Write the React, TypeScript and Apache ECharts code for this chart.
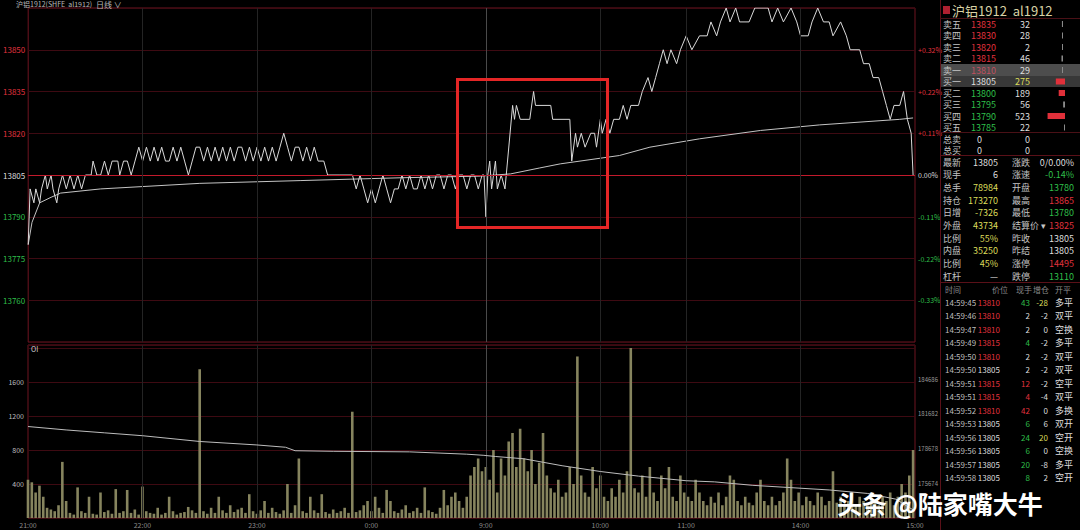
import React, { useEffect, useRef } from 'react';
import * as echarts from 'echarts';

// ---------- axis ticks ----------
const timeTickMinutes = [0, 60, 120, 180, 240, 300, 345, 405, 465];
const timeTickLabels = ['21:00', '22:00', '23:00', '0:00', '9:00', '10:00', '11:00', '14:00', '15:00'];
const priceTicks = [13760, 13775, 13790, 13805, 13820, 13835, 13850];
const pctLabels = ['-0.33%', '-0.22%', '-0.11%', '0.00%', '+0.11%', '+0.22%', '+0.32%'];
const prevSettle = 13805;
const volTicks = [400, 800, 1200, 1600];
const oiTicks = [175674, 178678, 181682, 184686];

// ---------- price (minute index, price) ----------
const priceLine: [number, number][] = [
  [0, 13780], [1, 13800], [3, 13795], [4, 13800], [6, 13795], [7, 13800], [9, 13805], [10, 13800], [12, 13805], [13, 13800],
  [15, 13795], [16, 13800], [18, 13805], [20, 13800], [22, 13805], [24, 13800], [26, 13805], [28, 13800], [30, 13805], [33, 13805],
  [34, 13810], [36, 13805], [38, 13805], [40, 13810], [42, 13805], [44, 13810], [47, 13810], [48, 13805], [50, 13810], [52, 13810],
  [54, 13805], [56, 13810], [58, 13815], [60, 13810], [62, 13815], [64, 13810], [66, 13815], [68, 13810], [70, 13815], [72, 13810],
  [74, 13810], [76, 13815], [78, 13810], [80, 13815], [82, 13810], [84, 13805], [86, 13810], [88, 13815], [90, 13815], [92, 13810],
  [94, 13815], [96, 13810], [98, 13815], [100, 13810], [102, 13815], [104, 13810], [106, 13815], [108, 13810], [110, 13815], [112, 13815],
  [114, 13810], [116, 13815], [118, 13810], [120, 13815], [122, 13810], [124, 13815], [126, 13810], [128, 13815], [130, 13810], [132, 13815],
  [134, 13820], [136, 13815], [138, 13810], [140, 13815], [142, 13815], [144, 13810], [146, 13815], [148, 13810], [150, 13815], [152, 13810],
  [155, 13810], [157, 13805], [163, 13805], [170, 13805], [172, 13800], [174, 13805], [176, 13800], [178, 13795], [180, 13800], [182, 13795],
  [184, 13800], [186, 13805], [188, 13800], [190, 13795], [192, 13800], [194, 13800], [196, 13805], [198, 13800], [200, 13805], [202, 13800],
  [204, 13800], [206, 13805], [208, 13800], [210, 13805], [212, 13800], [214, 13805], [216, 13805], [218, 13800], [220, 13805], [222, 13805],
  [224, 13800], [226, 13805], [228, 13805], [230, 13800], [232, 13805], [234, 13805], [236, 13800], [238, 13805], [239, 13805],
  [240, 13790], [241, 13805], [242, 13810], [243, 13800], [245, 13810], [246, 13800], [248, 13805], [250, 13800], [254, 13830], [255, 13825],
  [256, 13830], [258, 13825], [263, 13825], [265, 13835], [266, 13830], [274, 13830], [275, 13825], [284, 13825], [285, 13810], [287, 13820],
  [288, 13815], [290, 13820], [292, 13815], [295, 13820], [297, 13820], [298, 13815], [300, 13825], [301, 13820], [303, 13825], [305, 13820],
  [307, 13825], [310, 13825], [312, 13830], [314, 13825], [316, 13830], [320, 13830], [322, 13835], [325, 13840], [327, 13835], [329, 13840],
  [331, 13845], [333, 13850], [335, 13845], [337, 13850], [340, 13845], [342, 13850], [345, 13855], [348, 13850], [352, 13855], [356, 13855],
  [358, 13860], [361, 13855], [363, 13860], [366, 13865], [368, 13860], [371, 13865], [373, 13860], [378, 13860], [381, 13865], [388, 13865],
  [390, 13860], [393, 13865], [396, 13860], [400, 13865], [403, 13860], [405, 13855], [409, 13855], [411, 13860], [414, 13865], [417, 13860],
  [420, 13860], [422, 13855], [426, 13860], [429, 13855], [431, 13850], [436, 13850], [438, 13845], [441, 13845], [443, 13840], [446, 13840],
  [448, 13835], [450, 13830], [452, 13825], [454, 13830], [457, 13830], [459, 13835], [461, 13825], [463, 13820], [464, 13805],
];

const avgLine: [number, number][] = [
  [0, 13780], [2, 13788], [6, 13795], [12, 13797], [17, 13798.5], [38, 13800], [90, 13802], [143, 13803], [195, 13804], [237, 13804.6],
  [253, 13805.4], [268, 13807.5], [279, 13809], [310, 13812], [326, 13815], [352, 13818], [384, 13821], [415, 13823], [457, 13825], [464, 13825.5],
];

// ---------- volume (sampled every 2 minutes) ----------
const volNight = [
  450, 420, 300, 380, 250, 120, 100, 80, 150, 660, 200, 60, 40, 360, 80, 60, 250, 50, 40, 300,
  70, 90, 50, 340, 60, 80, 330, 60, 100, 40, 370, 80, 60, 50, 120, 40, 60, 250, 80, 40,
  60, 70, 130, 90, 60, 1750, 80, 50, 120, 60, 250, 90, 60, 150, 70, 100, 120, 60, 280, 80,
  50, 90, 200, 60, 120, 70, 50, 90, 400, 60, 150, 700, 80, 60, 250, 90, 60, 280, 70, 50,
  100, 60, 80, 120, 60, 1250, 70, 90, 150, 200, 80, 250, 120, 60, 330, 200, 80, 60, 100, 150,
  60, 80, 120, 60, 360, 90, 70, 50, 120, 330, 150, 250, 300, 200, 120, 250, 500, 600, 700, 550,
];
const volDay = [
  600, 450, 800, 300, 700, 500, 900, 1000, 600, 1050, 700, 550, 800, 400, 650, 1000, 500, 350, 300, 450,
  250, 300, 600, 400, 1900, 500, 300, 250, 600, 350, 500, 250, 200, 350, 250, 450, 300, 550, 2000, 350,
  300, 500, 250, 600, 300, 200, 500, 350, 600, 250, 200, 500, 300, 250, 200, 450, 300, 200, 150, 250,
  180, 300, 150, 250, 500, 450, 200, 150, 250, 180, 150, 300, 450, 200, 150, 250, 150, 200, 300, 700,
  450, 200, 300, 150, 250, 200, 150, 300, 250, 150, 200, 550, 180, 250, 150, 200, 300, 150, 250, 200,
  150, 300, 200, 150, 250, 200, 300, 150, 250, 400, 300, 500, 800,
];
const oiLine: [number, number][] = [
  [0, 180596], [20, 180300], [40, 180050], [60, 179800], [90, 179300], [120, 179000], [135, 178800], [140, 178500], [160, 178450],
  [200, 178400], [230, 178200], [239, 178100], [245, 178000], [260, 177800], [280, 177200], [300, 176700], [320, 176300], [345, 175900],
  [360, 175800], [380, 175500], [400, 175300], [420, 175100], [440, 174800], [455, 174300], [465, 173270],
];

// ---------- right panel data ----------
const askLabels = ['卖五', '卖四', '卖三', '卖二', '卖一'];
const askPrices = [13835, 13830, 13820, 13815, 13810];
const askVols = [32, 28, 2, 46, 29];
const bidLabels = ['买一', '买二', '买三', '买四', '买五'];
const bidPrices = [13805, 13800, 13795, 13790, 13785];
const bidVols = [275, 189, 56, 523, 22];
const totalLabels = ['总卖', '总买'];
const totalVals = [0, 0];

const statLabelsL = ['最新', '现手', '总手', '持仓', '日增', '外盘', '比例', '内盘', '比例', '杠杆'];
const statValuesL = ['13805', '6', '78984', '173270', '-7326', '43734', '55%', '35250', '45%', '—'];
const statLabelsR = ['涨跌', '涨速', '开盘', '最高', '最低', '结算价 ▾', '昨收', '昨结', '涨停', '跌停'];
const statValuesR = ['0/0.00%', '-0.14%', '13780', '13865', '13780', '13825', '13805', '13805', '14495', '13110'];
const statToneL = ['w', 'w', 'y', 'y', 'y', 'y', 'y', 'y', 'y', 'w'];
const statToneR = ['w', 'g', 'g', 'r', 'g', 'r', 'w', 'w', 'r', 'g'];

const tradeHeader = ['时间', '价位', '现手', '增仓', '开平'];
const tradeTimes = ['14:59:45', '14:59:46', '14:59:47', '14:59:49', '14:59:50', '14:59:50', '14:59:51', '14:59:51', '14:59:52', '14:59:53', '14:59:56', '14:59:56', '14:59:57', '14:59:58'];
const tradePrices = [13810, 13810, 13810, 13815, 13810, 13805, 13815, 13815, 13810, 13805, 13805, 13805, 13805, 13805];
const tradeVols = [43, 2, 2, 4, 2, 2, 12, 4, 42, 6, 24, 6, 20, 8];
const tradeSides = ['S', 'N', 'N', 'S', 'N', 'N', 'B', 'B', 'B', 'S', 'S', 'S', 'S', 'S'];
const tradeOiChg = [-28, -2, 0, -2, -2, -2, -2, -4, 0, 6, 20, 0, -8, 2];
const tradeTypes = ['多平', '双平', '空换', '多平', '双平', '双平', '空平', '双平', '多换', '双开', '空开', '空换', '多平', '空开'];

// ---------- styles ----------
const RED = '#e0323e';
const GREEN = '#2fbf4a';
const WHITE = '#dedede';
const YELLOW = '#dcdc5a';
const LABEL = '#c4c4c4';
const FONT = '"Noto Sans CJK SC", "Noto Sans", sans-serif';
const toneColor = (t: string) => (t === 'r' ? RED : t === 'g' ? GREEN : t === 'y' ? YELLOW : WHITE);
const priceColor = (p: number) => (p > prevSettle ? RED : p < prevSettle ? GREEN : WHITE);

function txt(text: string, x: number, y: number, fill: string, size = 9, align = 'left', weight = 'normal') {
  return {
    type: 'text', x, y, silent: true, z: 100,
    style: {
      text, fill, font: `${weight} ${size}px ${FONT}`,
      textAlign: align, textVerticalAlign: 'middle', align, verticalAlign: 'middle',
    },
  };
}
function hline(x1: number, x2: number, y: number, color: string, w = 1) {
  return { type: 'line', silent: true, z: 90, shape: { x1, y1: y, x2, y2: y }, style: { stroke: color, lineWidth: w } };
}
function vline(x: number, y1: number, y2: number, color: string, w = 1) {
  return { type: 'line', silent: true, z: 90, shape: { x1: x, y1, x2: x, y2 }, style: { stroke: color, lineWidth: w } };
}

function buildPanel() {
  const g: any[] = [];
  const P = 940;
  g.push(vline(P + 0.5, 0, 530, '#5a1018'));
  g.push({ type: 'rect', silent: true, z: 95, shape: { x: 943, y: 6, width: 7, height: 8 }, style: { fill: '#b02030' } });
  g.push(txt('沪铝1912  al1912', 952, 10, '#d9d2a6', 13));
  g.push(hline(P, 1080, 18.5, '#4a1016'));
  g.push({ type: 'rect', silent: true, z: 80, shape: { x: P + 1, y: 64, width: 140, height: 12 }, style: { fill: '#4d4d4d' } });
  g.push({ type: 'rect', silent: true, z: 80, shape: { x: P + 1, y: 76, width: 140, height: 11 }, style: { fill: '#383838' } });
  const rowH = 11.5;
  askLabels.forEach((l, i) => {
    const y = 24 + i * rowH;
    g.push(txt(l, 943, y, LABEL));
    g.push(txt(String(askPrices[i]), 996, y, i === 4 ? '#c05060' : RED, 9, 'right'));
    g.push(txt(String(askVols[i]), 1030, y, WHITE, 9, 'right'));
    const w = Math.max(1, askVols[i] / 30);
    g.push({ type: 'rect', silent: true, z: 95, shape: { x: 1063 - w, y: y - 3, width: w, height: 6 }, style: { fill: '#8a8a8a' } });
  });
  bidLabels.forEach((l, i) => {
    const y = 24 + (i + 5) * rowH;
    g.push(txt(l, 943, y, LABEL));
    g.push(txt(String(bidPrices[i]), 996, y, priceColor(bidPrices[i]), 9, 'right'));
    g.push(txt(String(bidVols[i]), 1030, y, i === 0 ? YELLOW : WHITE, 9, 'right'));
    const w = Math.max(1, bidVols[i] / 30);
    g.push({ type: 'rect', silent: true, z: 95, shape: { x: 1065 - w, y: y - 3, width: w, height: 6 }, style: { fill: bidVols[i] > 100 ? '#e0303a' : '#8a8a8a' } });
  });
  g.push(hline(P, 1080, 132.5, '#4a1016'));
  totalLabels.forEach((l, i) => {
    const y = 139 + i * rowH;
    g.push(txt(l, 943, y, LABEL));
    g.push(txt(String(totalVals[i]), 982, y, WHITE, 9, 'right'));
    g.push(txt(String(totalVals[i]), 1030, y, WHITE, 9, 'right'));
  });
  g.push(hline(P, 1080, 155.5, '#5a1018'));
  statLabelsL.forEach((l, i) => {
    const y = 162 + i * 12.7;
    g.push(txt(l, 943, y, LABEL));
    g.push(txt(statValuesL[i], 998, y, toneColor(statToneL[i]), 9, 'right'));
    g.push(txt(statLabelsR[i], 1012, y, LABEL));
    g.push(txt(statValuesR[i], 1074, y, toneColor(statToneR[i]), 9, 'right'));
  });
  g.push(hline(P, 1080, 282.5, '#5a1018'));
  const hx = [945, 992, 1016, 1033, 1055];
  tradeHeader.forEach((h, i) => g.push(txt(h, hx[i], 289, '#8a8a8a', 8)));
  tradeTimes.forEach((t, i) => {
    const y = 302 + i * 13.5;
    g.push(txt(t, 945, y, '#bdbdbd', 8));
    g.push(txt(String(tradePrices[i]), 1000, y, priceColor(tradePrices[i]), 8, 'right'));
    const sc = tradeSides[i] === 'B' ? RED : tradeSides[i] === 'S' ? GREEN : WHITE;
    g.push(txt(String(tradeVols[i]), 1030, y, sc, 8, 'right'));
    const oc = Math.abs(tradeOiChg[i]) >= 20 ? YELLOW : WHITE;
    g.push(txt(String(tradeOiChg[i]), 1048, y, oc, 8, 'right'));
    g.push(txt(tradeTypes[i], 1055, y, WHITE, 9));
  });
  return g;
}

function buildOption() {
  const priceMin = 13745, priceMax = 13865;
  const graphics: any[] = [
    txt('沪铝1912(SHFE  al1912)', 16, 4, '#b8b8b8', 7),
    txt('日线 ∨', 96, 4, '#b8b8b8', 8),
    txt('OI', 31, 349, '#cfcfcf', 7),
    { type: 'rect', silent: true, z: 110, shape: { x: 457.5, y: 79.5, width: 150, height: 148 }, style: { fill: 'none', stroke: '#e42626', lineWidth: 3 } },
    ...buildPanel(),
    txt('头条 @陆家嘴大牛', 837, 503, '#ffffff', 25, 'left', 'bold'),
  ];
  const vMarks = timeTickMinutes.slice(1, -1).map((m) => ({
    xAxis: m,
    lineStyle: { color: m === 240 ? '#4a4a4a' : '#242424', width: 1, type: 'solid' },
  }));
  return {
    animation: false,
    backgroundColor: '#000',
    textStyle: { fontFamily: FONT },
    grid: [
      { left: 28, top: 8, width: 887, height: 334, show: true, borderColor: '#6e1420', borderWidth: 1, backgroundColor: 'transparent' },
      { left: 28, top: 345, width: 887, height: 173, show: true, borderColor: '#6e1420', borderWidth: 1, backgroundColor: 'transparent' },
    ],
    xAxis: [
      { gridIndex: 0, type: 'value', min: 0, max: 465, show: false, splitLine: { show: false } },
      {
        gridIndex: 1, type: 'value', min: 0, max: 465, interval: 15,
        axisLine: { show: false }, axisTick: { show: false }, splitLine: { show: false },
        axisLabel: {
          color: '#8c8c8c', fontSize: 7, margin: 3, showMinLabel: true, showMaxLabel: true,
          formatter: (v: number) => { const i = timeTickMinutes.indexOf(v); return i >= 0 ? timeTickLabels[i] : ''; },
        },
      },
    ],
    yAxis: [
      {
        gridIndex: 0, type: 'value', min: priceMin, max: priceMax, interval: 15, position: 'left',
        axisLine: { show: false }, axisTick: { show: false },
        splitLine: { show: true, lineStyle: { color: '#3e0a12', width: 1 } },
        axisLabel: {
          fontSize: 8, margin: 3, showMinLabel: false, showMaxLabel: false,
          formatter: (v: number) => (priceTicks.indexOf(v) >= 0 ? String(v) : ''),
          color: (v: any) => priceColor(Number(v)),
        },
      },
      {
        gridIndex: 0, type: 'value', min: priceMin, max: priceMax, interval: 15, position: 'right',
        axisLine: { show: false }, axisTick: { show: false }, splitLine: { show: false },
        axisLabel: {
          fontSize: 7, margin: 3, showMinLabel: false, showMaxLabel: false,
          formatter: (v: number) => { const i = priceTicks.indexOf(v); return i >= 0 ? pctLabels[i] : ''; },
          color: (v: any) => priceColor(Number(v)),
        },
      },
      {
        gridIndex: 1, type: 'value', min: 0, max: 2035, interval: 400, position: 'left',
        axisLine: { show: false }, axisTick: { show: false },
        splitLine: { show: true, lineStyle: { color: '#3e0a12', width: 1 } },
        axisLabel: {
          fontSize: 7, margin: 4, color: '#bdbdbd', showMinLabel: false, showMaxLabel: false,
          formatter: (v: number) => (volTicks.indexOf(v) >= 0 ? String(v) : ''),
        },
      },
      {
        gridIndex: 1, type: 'value', min: 172670, max: 187660, interval: 3004, position: 'right',
        axisLine: { show: false }, axisTick: { show: false }, splitLine: { show: false },
        axisLabel: {
          fontSize: 6, margin: 3, color: '#9a9a9a', showMinLabel: false, showMaxLabel: false,
          formatter: (v: number) => (oiTicks.indexOf(v) >= 0 ? String(v) : ''),
        },
      },
    ],
    series: [
      {
        type: 'line', xAxisIndex: 0, yAxisIndex: 0, data: avgLine, showSymbol: false, silent: true,
        lineStyle: { color: '#c4c4c4', width: 1 }, z: 3,
      },
      {
        type: 'line', xAxisIndex: 0, yAxisIndex: 0, data: priceLine, showSymbol: false, silent: true,
        lineStyle: { color: '#dadada', width: 1 }, z: 4,
        markLine: {
          silent: true, symbol: 'none', label: { show: false },
          data: [{ yAxis: prevSettle, lineStyle: { color: '#c21a2c', width: 1, type: 'solid' } }, ...vMarks],
        },
      },
      {
        type: 'bar', xAxisIndex: 1, yAxisIndex: 2, barWidth: 2.6, silent: true,
        data: [...volNight.map((v, i) => [i * 2, v]), ...volDay.map((v, j) => [240 + j * 2, v])],
        itemStyle: { color: '#86845e' },
        markLine: { silent: true, symbol: 'none', label: { show: false }, data: vMarks },
      },
      {
        type: 'line', xAxisIndex: 1, yAxisIndex: 3, data: oiLine, showSymbol: false, silent: true,
        lineStyle: { color: '#bdbdbd', width: 1 }, z: 5,
      },
    ],
    graphic: { elements: graphics },
  };
}

export default function App() {
  const ref = useRef<HTMLDivElement>(null);
  useEffect(() => {
    document.body.style.margin = '0';
    document.body.style.background = '#000';
    const chart = echarts.init(ref.current!, undefined, { renderer: 'svg', width: 1080, height: 530 });
    chart.setOption(buildOption() as any);
    return () => chart.dispose();
  }, []);
  return <div ref={ref} style={{ position: 'fixed', left: 0, top: 0, width: 1080, height: 530, background: '#000' }} />;
}
